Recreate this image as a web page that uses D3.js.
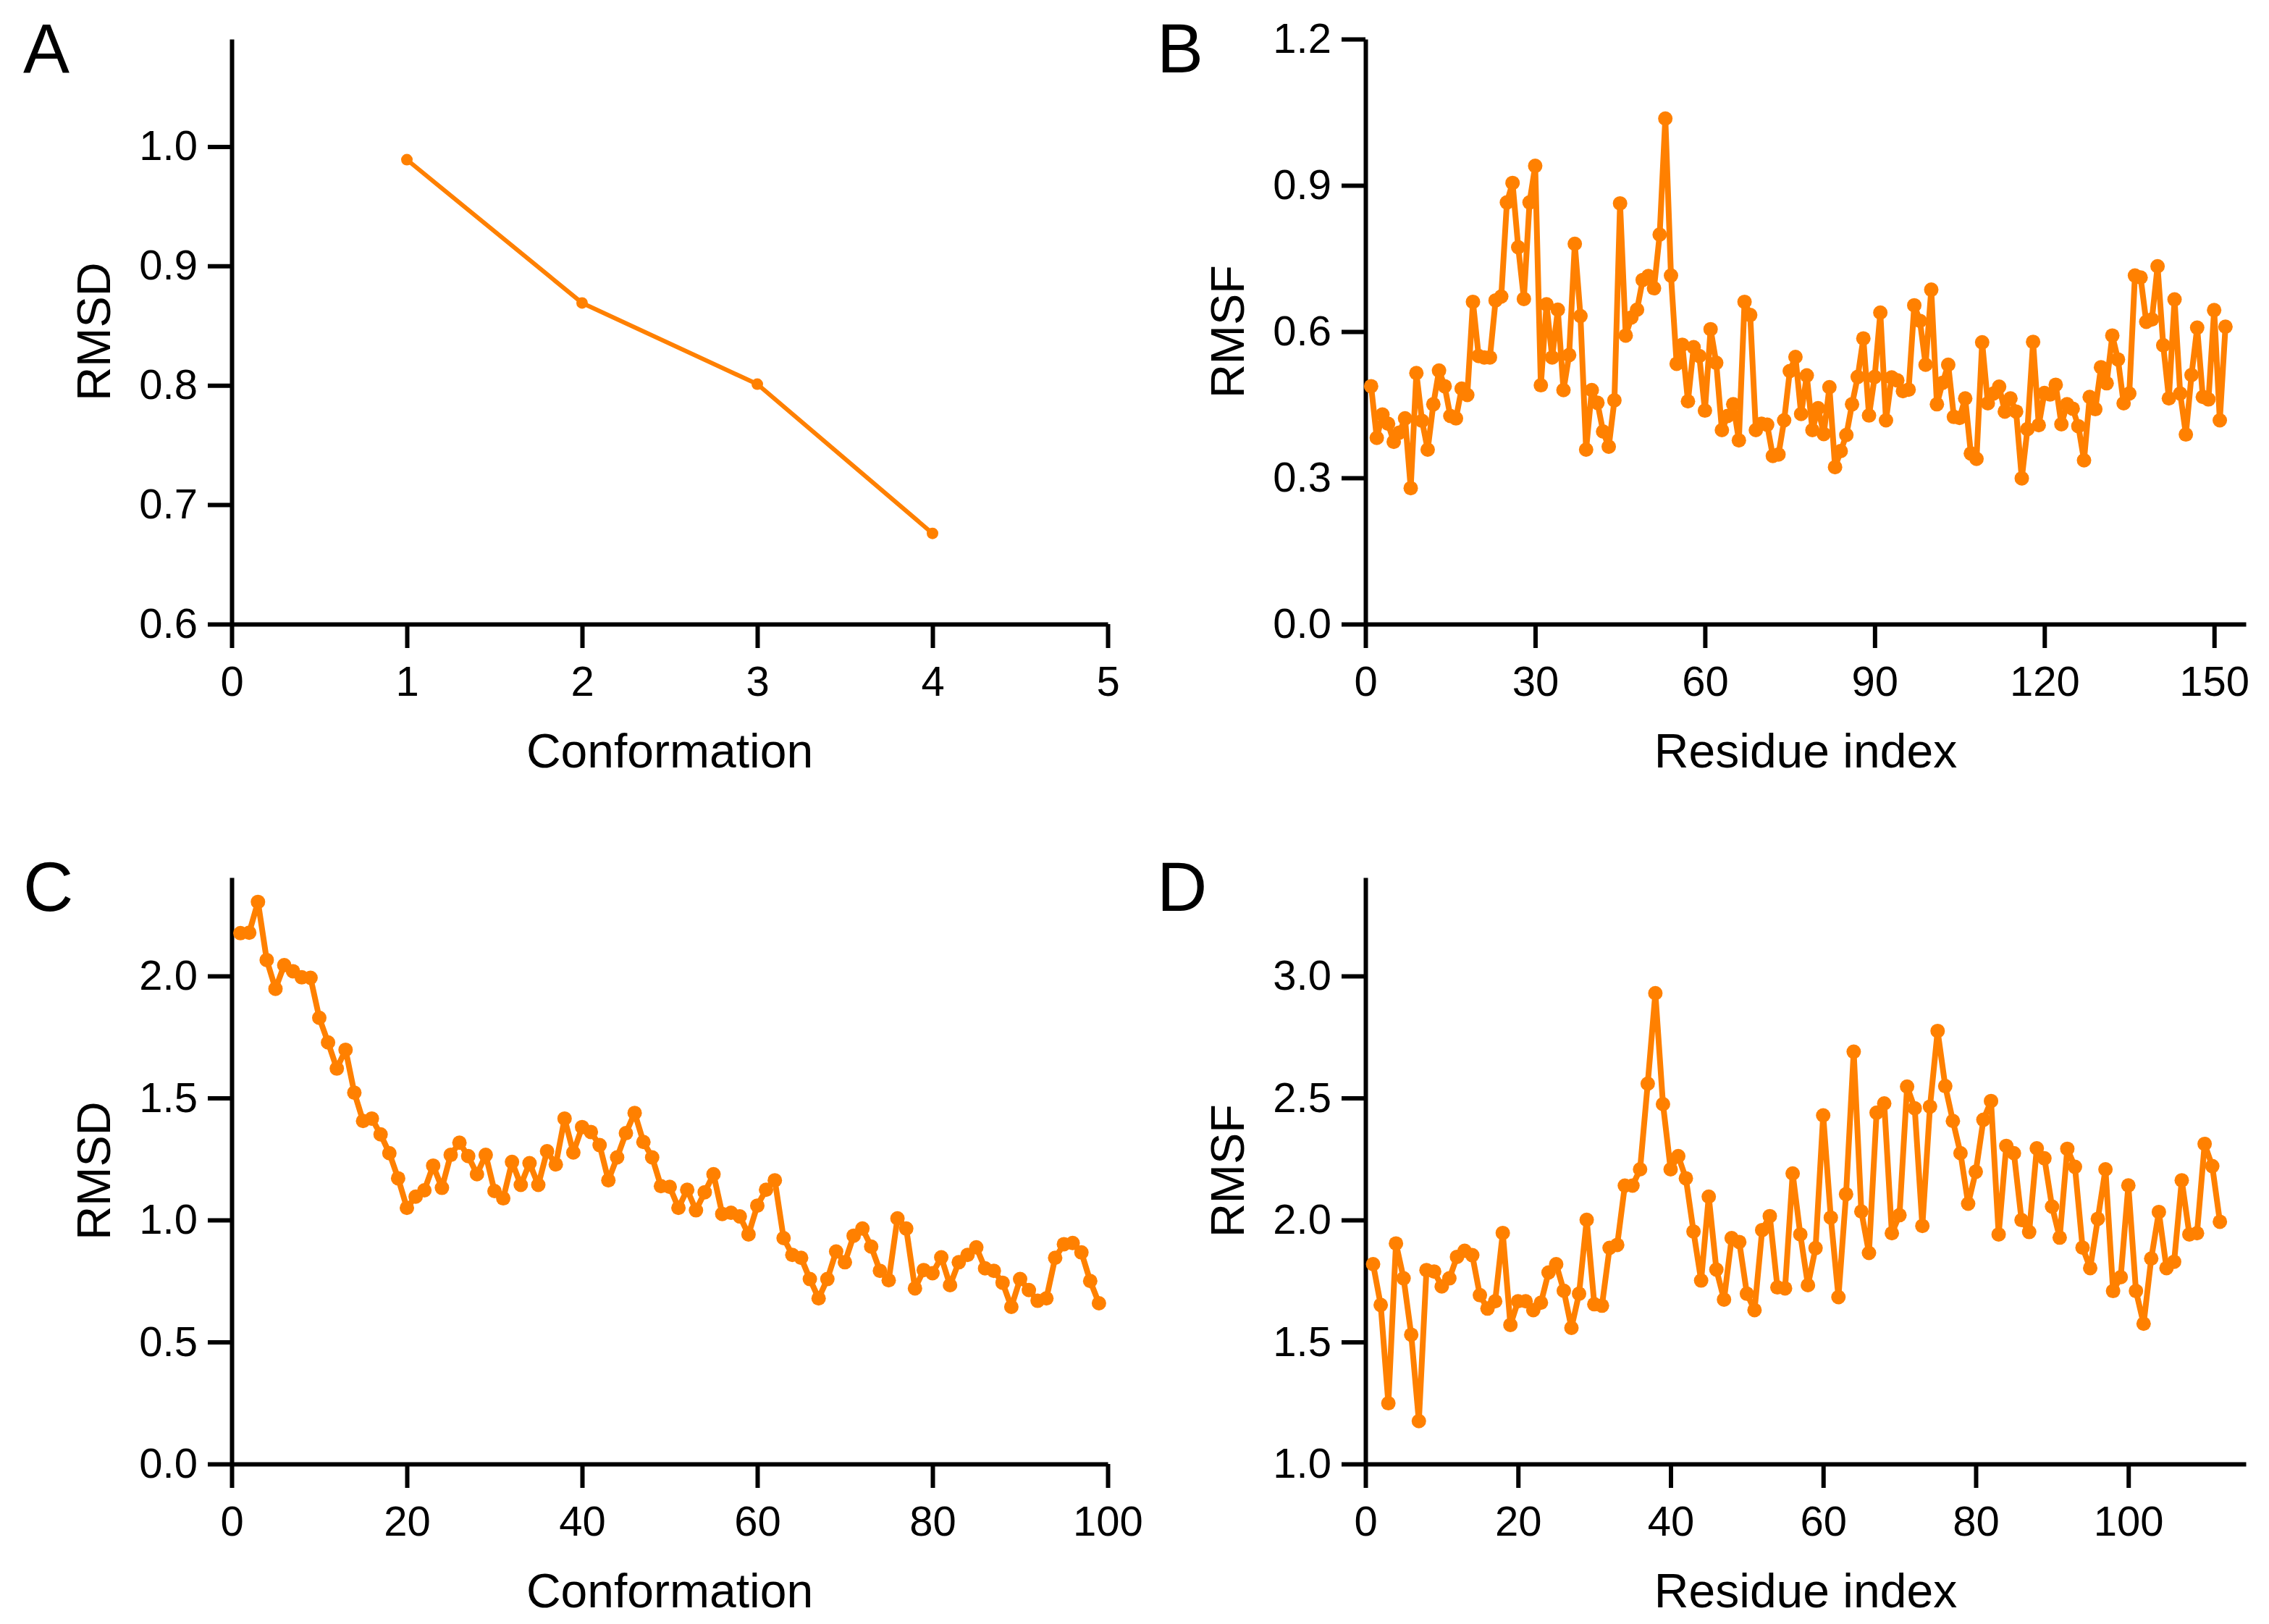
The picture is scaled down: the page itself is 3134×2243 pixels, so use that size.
<!DOCTYPE html>
<html>
<head>
<meta charset="utf-8">
<script src="https://cdn.jsdelivr.net/npm/d3@7"></script>
<style>
  body { margin: 0; background: white; }
  text { font-family: "Liberation Sans", Arial, sans-serif; }
</style>
</head>
<body>
<script>
const width = 3134;
const height = 2243;
const orange = "#ff8000";

// ---- data ----
// A: RMSD per conformation
const confA = [1, 2, 3, 4];
const rmsdA = [0.989, 0.869, 0.801, 0.676];

// B: RMSF per residue (1..152)
const rmsfB = [
  0.488, 0.382, 0.430, 0.411, 0.374, 0.393, 0.422, 0.279, 0.515, 0.417,
  0.358, 0.451, 0.520, 0.488, 0.427, 0.422, 0.483, 0.470, 0.661, 0.550,
  0.547, 0.547, 0.664, 0.672, 0.865, 0.905, 0.773, 0.667, 0.865, 0.940,
  0.490, 0.656, 0.547, 0.645, 0.480, 0.552, 0.780, 0.632, 0.358, 0.480,
  0.454, 0.395, 0.364, 0.459, 0.863, 0.592, 0.629, 0.645, 0.706, 0.714,
  0.689, 0.799, 1.037, 0.715, 0.534, 0.573, 0.457, 0.568, 0.550, 0.438,
  0.605, 0.536, 0.398, 0.427, 0.451, 0.377, 0.661, 0.634, 0.398, 0.411,
  0.409, 0.345, 0.348, 0.418, 0.519, 0.548, 0.431, 0.510, 0.398, 0.443,
  0.390, 0.486, 0.322, 0.355, 0.388, 0.451, 0.507, 0.586, 0.428, 0.507,
  0.639, 0.418, 0.506, 0.500, 0.478, 0.481, 0.654, 0.622, 0.532, 0.686,
  0.451, 0.495, 0.532, 0.425, 0.423, 0.463, 0.350, 0.339, 0.578, 0.453,
  0.473, 0.487, 0.436, 0.463, 0.436, 0.299, 0.400, 0.579, 0.408, 0.474,
  0.471, 0.491, 0.410, 0.451, 0.442, 0.406, 0.336, 0.466, 0.441, 0.527,
  0.494, 0.592, 0.543, 0.453, 0.473, 0.715, 0.711, 0.620, 0.625, 0.734,
  0.572, 0.463, 0.666, 0.473, 0.389, 0.511, 0.608, 0.466, 0.461, 0.644,
  0.418, 0.610
];

// C: RMSD per conformation (1..99)
const rmsdC = [
  2.176, 2.178, 2.304, 2.066, 1.948, 2.045, 2.020, 1.995, 1.993, 1.829,
  1.728, 1.621, 1.698, 1.522, 1.406, 1.416, 1.351, 1.274, 1.171, 1.050,
  1.096, 1.122, 1.223, 1.132, 1.267, 1.317, 1.262, 1.188, 1.267, 1.119,
  1.089, 1.238, 1.144, 1.233, 1.144, 1.282, 1.228, 1.416, 1.277, 1.381,
  1.361, 1.307, 1.163, 1.257, 1.356, 1.439, 1.320, 1.257, 1.139, 1.136,
  1.050, 1.124, 1.040, 1.114, 1.188, 1.025, 1.030, 1.015, 0.941, 1.059,
  1.124, 1.163, 0.926, 0.857, 0.845, 0.758, 0.679, 0.758, 0.871, 0.827,
  0.936, 0.965, 0.891, 0.792, 0.753, 1.007, 0.965, 0.720, 0.795, 0.782,
  0.847, 0.733, 0.827, 0.857, 0.888, 0.802, 0.792, 0.743, 0.644, 0.758,
  0.713, 0.669, 0.679, 0.845, 0.901, 0.906, 0.867, 0.750, 0.659
];

// D: RMSF per residue (1..112)
const rmsfD = [
  1.819, 1.652, 1.249, 1.904, 1.761, 1.530, 1.176, 1.795, 1.789, 1.728,
  1.761, 1.849, 1.874, 1.856, 1.692, 1.637, 1.667, 1.947, 1.570, 1.667,
  1.667, 1.631, 1.661, 1.785, 1.819, 1.710, 1.558, 1.698, 2.001, 1.655,
  1.649, 1.886, 1.898, 2.141, 2.141, 2.208, 2.559, 2.930, 2.475, 2.208,
  2.262, 2.171, 1.953, 1.752, 2.096, 1.797, 1.674, 1.926, 1.910, 1.698,
  1.631, 1.959, 2.016, 1.724, 1.720, 2.191, 1.941, 1.733, 1.885, 2.429,
  2.010, 1.684, 2.106, 2.690, 2.035, 1.865, 2.440, 2.478, 1.946, 2.020,
  2.547, 2.458, 1.976, 2.465, 2.775, 2.549, 2.406, 2.274, 2.067, 2.198,
  2.411, 2.488, 1.941, 2.304, 2.274, 2.000, 1.951, 2.294, 2.253, 2.055,
  1.928, 2.292, 2.218, 1.887, 1.803, 2.005, 2.208, 1.709, 1.766, 2.142,
  1.709, 1.575, 1.842, 2.033, 1.803, 1.829, 2.163, 1.941, 1.946, 2.312,
  2.221, 1.993
];

// tick values
const ticksAx = [0, 1, 2, 3, 4, 5];
const ticksAy = [0.6, 0.7, 0.8, 0.9, 1.0];
const ticksBx = [0, 30, 60, 90, 120, 150];
const ticksBy = [0, 0.3, 0.6, 0.9, 1.2];
const ticksCx = [0, 20, 40, 60, 80, 100];
const ticksCy = [0, 0.5, 1.0, 1.5, 2.0];
const ticksDx = [0, 20, 40, 60, 80, 100];
const ticksDy = [1.0, 1.5, 2.0, 2.5, 3.0];

const svg = d3.select("body")
  .append("svg")
  .attr("width", width)
  .attr("height", height);

function drawPanel(p) {
  const x = d3.scaleLinear().domain(p.xDomain).range([p.left, p.right]);
  const y = d3.scaleLinear().domain(p.yDomain).range([p.bottom, p.top]);
  const g = svg.append("g");

  // axes
  const xAxis = d3.axisBottom(x).tickValues(p.xTicks).tickFormat(d3.format("d"))
    .tickSize(33).tickSizeOuter(0).tickPadding(25);
  const yAxis = d3.axisLeft(y).tickValues(p.yTicks).tickFormat(d3.format(".1f"))
    .tickSize(33).tickSizeOuter(0).tickPadding(14);

  const gx = g.append("g").attr("transform", `translate(0,${p.bottom})`).call(xAxis);
  const gy = g.append("g").attr("transform", `translate(${p.left},0)`).call(yAxis);

  [gx, gy].forEach(a => {
    a.select(".domain").attr("stroke", "black").attr("stroke-width", 6);
    a.selectAll(".tick line").attr("stroke", "black").attr("stroke-width", 6);
    a.selectAll(".tick text")
      .attr("fill", "black")
      .style("font-size", "58px")
      .style("font-family", '"Liberation Sans", Arial, sans-serif');
  });

  // line + markers
  const pts = p.xs.map((d, i) => ({ x: d, y: p.ys[i] }));
  const line = d3.line().x(d => x(d.x)).y(d => y(d.y));

  g.append("path")
    .datum(pts)
    .attr("d", line)
    .attr("fill", "none")
    .attr("stroke", orange)
    .attr("stroke-width", p.lineW)
    .attr("stroke-linejoin", "round");

  g.selectAll(".pt")
    .data(pts)
    .enter()
    .append("circle")
    .attr("class", "pt")
    .attr("cx", d => x(d.x))
    .attr("cy", d => y(d.y))
    .attr("r", p.r)
    .attr("fill", orange);

  // axis titles
  g.append("text")
    .attr("x", (p.left + p.right) / 2)
    .attr("y", p.bottom + 198)
    .attr("text-anchor", "middle")
    .style("font-size", "66px")
    .text(p.xLabel);

  g.append("text")
    .attr("transform", `translate(${p.left - 168},${(p.top + p.bottom) / 2}) rotate(-90)`)
    .attr("text-anchor", "middle")
    .style("font-size", "65px")
    .text(p.yLabel);

  // panel letter
  g.append("text")
    .attr("x", p.left - 288)
    .attr("y", p.top + 46)
    .style("font-size", "96px")
    .text(p.letter);
}

drawPanel({
  letter: "A", xs: confA, ys: rmsdA,
  xDomain: [0, 5], yDomain: [0.6, 1.09],
  left: 320, right: 1530, top: 54, bottom: 862,
  xTicks: ticksAx, yTicks: ticksAy,
  xLabel: "Conformation", yLabel: "RMSD", lineW: 6, r: 8
});

drawPanel({
  letter: "B", xs: rmsfB.map((d, i) => i + 1), ys: rmsfB,
  xDomain: [0, 155.6], yDomain: [0, 1.2],
  left: 1886, right: 3102, top: 54, bottom: 862,
  xTicks: ticksBx, yTicks: ticksBy,
  xLabel: "Residue index", yLabel: "RMSF", lineW: 8, r: 10
});

drawPanel({
  letter: "C", xs: rmsdC.map((d, i) => i + 1), ys: rmsdC,
  xDomain: [0, 100], yDomain: [0, 2.404],
  left: 320, right: 1530, top: 1212, bottom: 2022,
  xTicks: ticksCx, yTicks: ticksCy,
  xLabel: "Conformation", yLabel: "RMSD", lineW: 8, r: 10
});

drawPanel({
  letter: "D", xs: rmsfD.map((d, i) => i + 1), ys: rmsfD,
  xDomain: [0, 115.4], yDomain: [1.0, 3.404],
  left: 1886, right: 3102, top: 1212, bottom: 2022,
  xTicks: ticksDx, yTicks: ticksDy,
  xLabel: "Residue index", yLabel: "RMSF", lineW: 8, r: 10
});
</script>
</body>
</html>
